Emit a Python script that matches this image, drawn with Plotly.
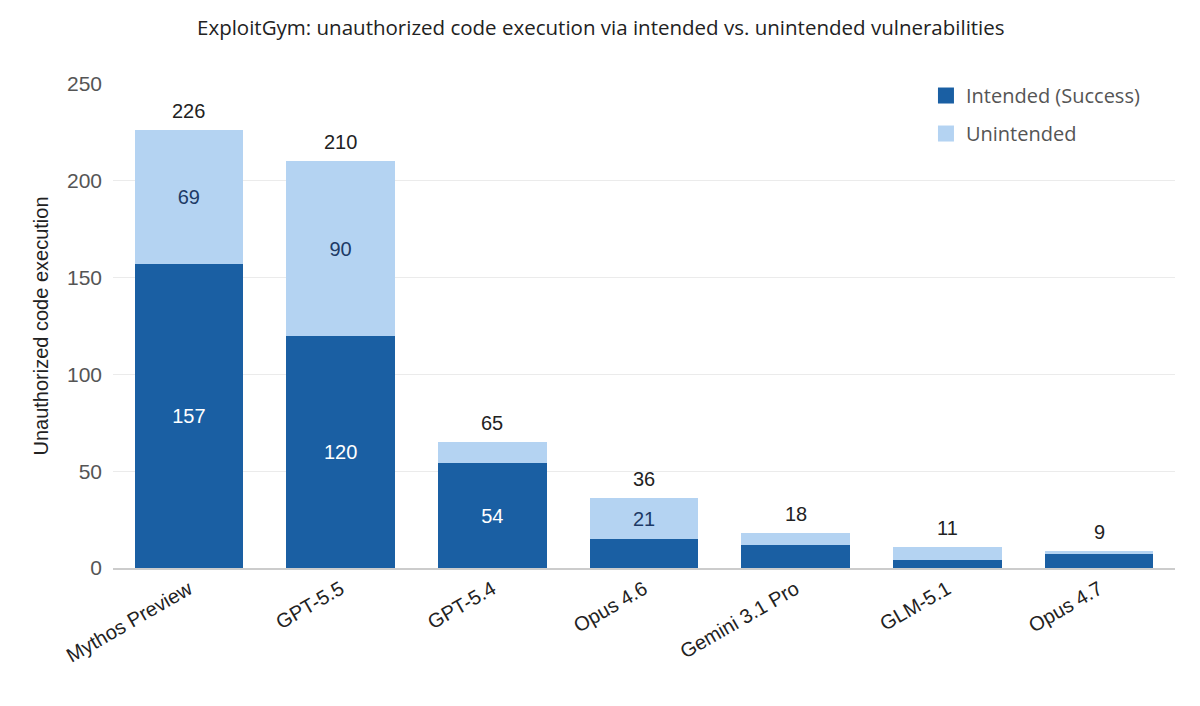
import plotly.graph_objects as go

models = ["Mythos Preview", "GPT-5.5", "GPT-5.4", "Opus 4.6", "Gemini 3.1 Pro", "GLM-5.1", "Opus 4.7"]
intended = [157, 120, 54, 15, 12, 4, 7]
unintended = [69, 90, 11, 21, 6, 7, 2]
totals = [i + u for i, u in zip(intended, unintended)]
yticks = [0, 50, 100, 150, 200, 250]

DARK = "#1a5fa3"
LIGHT = "#b4d3f2"
NUMFONT = "Liberation Sans, Arial"
UIFONT = "Open Sans, Noto Sans"

def lab(vals, thr=20):
    return [str(v) if v >= thr else "" for v in vals]

fig = go.Figure()
fig.add_trace(go.Bar(
    x=models, y=intended, name="Intended (Success)", marker_color=DARK,
    text=lab(intended), textposition="inside", insidetextanchor="middle",
    textfont=dict(color="white", size=20, family=NUMFONT),
    marker_line_width=0, showlegend=False,
))
fig.add_trace(go.Bar(
    x=models, y=unintended, name="Unintended", marker_color=LIGHT,
    text=lab(unintended), textposition="inside", insidetextanchor="middle",
    textfont=dict(color="#1d3a66", size=20, family=NUMFONT),
    marker_line_width=0, showlegend=False,
))
# legend proxies
for nm, col in [("Intended (Success)", DARK), ("Unintended", LIGHT)]:
    fig.add_trace(go.Scatter(
        x=[None], y=[None], mode="markers", name=nm, legendgroup=nm,
        marker=dict(symbol="square", size=19, color=col),
    ))

for m, t in zip(models, totals):
    fig.add_annotation(x=m, y=t, text=str(t), showarrow=False, yanchor="bottom",
                       yshift=6, font=dict(color="#222222", size=20, family=NUMFONT))

fig.update_layout(
    barmode="stack",
    bargap=0.285,
    width=1200, height=706,
    margin=dict(l=105, r=33, t=76, b=146),
    paper_bgcolor="white", plot_bgcolor="white",
    title=dict(text="ExploitGym: unauthorized code execution via intended vs. unintended vulnerabilities",
               x=0.494, xanchor="center", y=0.9717, yanchor="middle",
               font=dict(family=UIFONT, size=20.5, color="#222222")),
    legend=dict(x=0.7655, y=1.0165, xanchor="left", yanchor="top", traceorder="grouped",
                font=dict(family=UIFONT, size=20, color="#555555"),
                bgcolor="rgba(0,0,0,0)", itemwidth=30, tracegroupgap=9, itemsizing="trace"),
)
fig.update_xaxes(
    tickangle=-30, showgrid=False, showline=True, linecolor="#cccccc", linewidth=1.5,
    tickfont=dict(family=NUMFONT, size=20, color="#222222"),
    ticks="",
)
fig.update_yaxes(
    range=[0, 250], tickvals=yticks, showgrid=True, gridcolor="#ebebeb", gridwidth=1,
    zeroline=False,
    tickfont=dict(family=NUMFONT, size=21, color="#555555"),
    title=dict(text="Unauthorized code execution", standoff=12,
               font=dict(family=NUMFONT, size=20, color="#222222")),
    ticklabelstandoff=10,
)
fig.write_html("out.html")
